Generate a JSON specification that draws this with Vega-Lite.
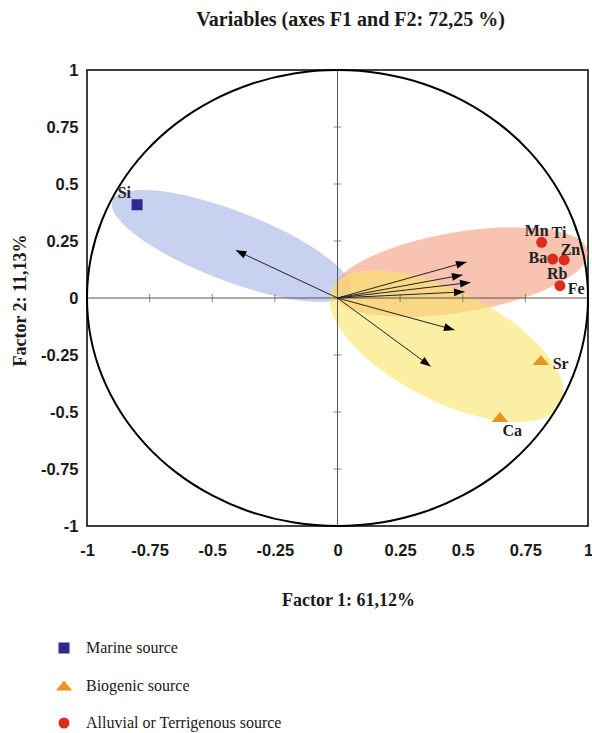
{
  "$schema": "https://vega.github.io/schema/vega-lite/v6.json",
  "width": 501,
  "height": 456,
  "autosize": {"type": "none"},
  "padding": {"left": 87, "top": 70, "right": 4, "bottom": 207},
  "background": "white",
  "title": {
    "text": "Variables (axes F1 and F2: 72,25 %)",
    "font": "Liberation Serif",
    "fontSize": 20,
    "fontWeight": "bold",
    "color": "#1a1a1a",
    "anchor": "middle",
    "dx": 13,
    "offset": 32
  },
  "config": {
    "view": {"stroke": "black", "strokeWidth": 1.5},
    "axis": {
      "grid": false,
      "ticks": false,
      "domain": false,
      "labelFont": "Liberation Sans",
      "labelFontWeight": "bold",
      "labelFontSize": 16.5,
      "labelColor": "#1a1a1a",
      "labelFlush": false,
      "labelOverlap": false,
      "titleFont": "Liberation Serif",
      "titleFontWeight": "bold",
      "titleFontSize": 18,
      "titleColor": "#1a1a1a"
    }
  },
  "datasets": {
    "blue": [
      {"i": 0, "x": 0.05, "y": 0.029}, {"i": 1, "x": -0.005, "y": -0.011},
      {"i": 2, "x": -0.124, "y": -0.014}, {"i": 3, "x": -0.288, "y": 0.019},
      {"i": 4, "x": -0.474, "y": 0.085}, {"i": 5, "x": -0.652, "y": 0.172},
      {"i": 6, "x": -0.795, "y": 0.268}, {"i": 7, "x": -0.882, "y": 0.357},
      {"i": 8, "x": -0.898, "y": 0.428}, {"i": 9, "x": -0.843, "y": 0.467},
      {"i": 10, "x": -0.724, "y": 0.471}, {"i": 11, "x": -0.56, "y": 0.437},
      {"i": 12, "x": -0.374, "y": 0.371}, {"i": 13, "x": -0.196, "y": 0.284},
      {"i": 14, "x": -0.053, "y": 0.188}, {"i": 15, "x": 0.034, "y": 0.099}
    ],
    "red": [
      {"i": 0, "x": 0.998, "y": 0.207}, {"i": 1, "x": 0.972, "y": 0.133},
      {"i": 2, "x": 0.87, "y": 0.057}, {"i": 3, "x": 0.711, "y": -0.011},
      {"i": 4, "x": 0.518, "y": -0.059}, {"i": 5, "x": 0.321, "y": -0.082},
      {"i": 6, "x": 0.15, "y": -0.074}, {"i": 7, "x": 0.032, "y": -0.038},
      {"i": 8, "x": -0.017, "y": 0.021}, {"i": 9, "x": 0.012, "y": 0.095},
      {"i": 10, "x": 0.114, "y": 0.171}, {"i": 11, "x": 0.273, "y": 0.239},
      {"i": 12, "x": 0.466, "y": 0.287}, {"i": 13, "x": 0.663, "y": 0.31},
      {"i": 14, "x": 0.834, "y": 0.302}, {"i": 15, "x": 0.952, "y": 0.266}
    ],
    "yellow": [
      {"i": 0, "x": 0.892, "y": -0.465}, {"i": 1, "x": 0.819, "y": -0.529},
      {"i": 2, "x": 0.688, "y": -0.543}, {"i": 3, "x": 0.518, "y": -0.507},
      {"i": 4, "x": 0.336, "y": -0.425}, {"i": 5, "x": 0.169, "y": -0.312},
      {"i": 6, "x": 0.043, "y": -0.182}, {"i": 7, "x": -0.024, "y": -0.057},
      {"i": 8, "x": -0.02, "y": 0.044}, {"i": 9, "x": 0.053, "y": 0.107},
      {"i": 10, "x": 0.184, "y": 0.121}, {"i": 11, "x": 0.354, "y": 0.086},
      {"i": 12, "x": 0.536, "y": 0.004}, {"i": 13, "x": 0.703, "y": -0.109},
      {"i": 14, "x": 0.829, "y": -0.239}, {"i": 15, "x": 0.896, "y": -0.364}
    ],
    "circle": [
      {"i": 0, "x": 1, "y": 0}, {"i": 1, "x": 0.985, "y": 0.174}, {"i": 2, "x": 0.94, "y": 0.342},
      {"i": 3, "x": 0.866, "y": 0.5}, {"i": 4, "x": 0.766, "y": 0.643}, {"i": 5, "x": 0.643, "y": 0.766},
      {"i": 6, "x": 0.5, "y": 0.866}, {"i": 7, "x": 0.342, "y": 0.94}, {"i": 8, "x": 0.174, "y": 0.985},
      {"i": 9, "x": 0, "y": 1}, {"i": 10, "x": -0.174, "y": 0.985}, {"i": 11, "x": -0.342, "y": 0.94},
      {"i": 12, "x": -0.5, "y": 0.866}, {"i": 13, "x": -0.643, "y": 0.766}, {"i": 14, "x": -0.766, "y": 0.643},
      {"i": 15, "x": -0.866, "y": 0.5}, {"i": 16, "x": -0.94, "y": 0.342}, {"i": 17, "x": -0.985, "y": 0.174},
      {"i": 18, "x": -1, "y": 0}, {"i": 19, "x": -0.985, "y": -0.174}, {"i": 20, "x": -0.94, "y": -0.342},
      {"i": 21, "x": -0.866, "y": -0.5}, {"i": 22, "x": -0.766, "y": -0.643}, {"i": 23, "x": -0.643, "y": -0.766},
      {"i": 24, "x": -0.5, "y": -0.866}, {"i": 25, "x": -0.342, "y": -0.94}, {"i": 26, "x": -0.174, "y": -0.985},
      {"i": 27, "x": 0, "y": -1}, {"i": 28, "x": 0.174, "y": -0.985}, {"i": 29, "x": 0.342, "y": -0.94},
      {"i": 30, "x": 0.5, "y": -0.866}, {"i": 31, "x": 0.643, "y": -0.766}, {"i": 32, "x": 0.766, "y": -0.643},
      {"i": 33, "x": 0.866, "y": -0.5}, {"i": 34, "x": 0.94, "y": -0.342}, {"i": 35, "x": 0.985, "y": -0.174}
    ],
    "cross": [
      {"x": 0, "y": -1, "x2": 0, "y2": 1},
      {"x": -1, "y": 0, "x2": 1, "y2": 0}
    ],
    "ticksF1": [
      {"x": -0.75, "y": 0}, {"x": -0.5, "y": 0}, {"x": -0.25, "y": 0},
      {"x": 0.25, "y": 0}, {"x": 0.5, "y": 0}, {"x": 0.75, "y": 0}
    ],
    "ticksF2": [
      {"x": 0, "y": -0.75}, {"x": 0, "y": -0.5}, {"x": 0, "y": -0.25},
      {"x": 0, "y": 0.25}, {"x": 0, "y": 0.5}, {"x": 0, "y": 0.75}
    ],
    "vectors": [
      {"x": -0.406, "y": 0.209},
      {"x": 0.515, "y": 0.158},
      {"x": 0.499, "y": 0.101},
      {"x": 0.531, "y": 0.068},
      {"x": 0.507, "y": 0.027},
      {"x": 0.467, "y": -0.14},
      {"x": 0.372, "y": -0.3}
    ],
    "points": [
      {"name": "Si", "x": -0.8, "y": 0.409, "source": "Marine source"},
      {"name": "Mn", "x": 0.815, "y": 0.244, "source": "Alluvial or Terrigenous source"},
      {"name": "Ba", "x": 0.859, "y": 0.171, "source": "Alluvial or Terrigenous source"},
      {"name": "Zn", "x": 0.905, "y": 0.167, "source": "Alluvial or Terrigenous source"},
      {"name": "Fe", "x": 0.888, "y": 0.054, "source": "Alluvial or Terrigenous source"},
      {"name": "Sr", "x": 0.812, "y": -0.272, "source": "Biogenic source"},
      {"name": "Ca", "x": 0.648, "y": -0.522, "source": "Biogenic source"}
    ],
    "labels": [
      {"name": "Si", "x": -0.851, "y": 0.46},
      {"name": "Mn", "x": 0.795, "y": 0.296},
      {"name": "Ti", "x": 0.884, "y": 0.284},
      {"name": "Ba", "x": 0.8, "y": 0.177},
      {"name": "Zn", "x": 0.93, "y": 0.211},
      {"name": "Rb", "x": 0.877, "y": 0.107},
      {"name": "Fe", "x": 0.953, "y": 0.039},
      {"name": "Sr", "x": 0.891, "y": -0.288},
      {"name": "Ca", "x": 0.698, "y": -0.583}
    ]
  },
  "encoding": {
    "x": {
      "field": "x",
      "type": "quantitative",
      "scale": {"domain": [-1, 1], "nice": false, "zero": false},
      "axis": {
        "values": [-1, -0.75, -0.5, -0.25, 0, 0.25, 0.5, 0.75, 1],
        "labelExpr": "datum.value + ''",
        "labelPadding": 16,
        "title": "Factor 1: 61,12%",
        "titleX": 261,
        "titleY": 74,
        "titleBaseline": "middle",
        "titleAlign": "center"
      }
    },
    "y": {
      "field": "y",
      "type": "quantitative",
      "scale": {"domain": [-1, 1], "nice": false, "zero": false},
      "axis": {
        "values": [-1, -0.75, -0.5, -0.25, 0, 0.25, 0.5, 0.75, 1],
        "labelExpr": "datum.value + ''",
        "labelPadding": 9,
        "title": "Factor 2: 11,13%",
        "titleX": -67,
        "titleY": 230,
        "titleAngle": -90,
        "titleBaseline": "middle",
        "titleAlign": "center"
      }
    }
  },
  "layer": [
    {
      "data": {"name": "blue"},
      "mark": {"type": "line", "interpolate": "cardinal-closed", "filled": true, "color": "#c8d1f0", "strokeWidth": 0},
      "encoding": {"order": {"field": "i", "type": "quantitative"}}
    },
    {
      "data": {"name": "red"},
      "mark": {"type": "line", "interpolate": "cardinal-closed", "filled": true, "color": "#f6ac94", "opacity": 0.72, "strokeWidth": 0},
      "encoding": {"order": {"field": "i", "type": "quantitative"}}
    },
    {
      "data": {"name": "yellow"},
      "mark": {"type": "line", "interpolate": "cardinal-closed", "filled": true, "color": "#f8e467", "opacity": 0.6, "strokeWidth": 0},
      "encoding": {"order": {"field": "i", "type": "quantitative"}}
    },
    {
      "data": {"name": "cross"},
      "mark": {"type": "rule", "color": "#555555", "strokeWidth": 1},
      "encoding": {"x2": {"field": "x2"}, "y2": {"field": "y2"}}
    },
    {
      "data": {"name": "ticksF1"},
      "mark": {"type": "tick", "orient": "vertical", "size": 8, "thickness": 1, "color": "#555555"},
      "encoding": {}
    },
    {
      "data": {"name": "ticksF2"},
      "mark": {"type": "tick", "orient": "horizontal", "size": 8, "thickness": 1, "color": "#555555"},
      "encoding": {}
    },
    {
      "data": {"name": "circle"},
      "mark": {"type": "line", "interpolate": "cardinal-closed", "color": "black", "strokeWidth": 2},
      "encoding": {"order": {"field": "i", "type": "quantitative"}}
    },
    {
      "data": {"name": "vectors"},
      "mark": {"type": "rule", "color": "#222222", "strokeWidth": 1},
      "encoding": {"x2": {"datum": 0}, "y2": {"datum": 0}}
    },
    {
      "data": {"name": "vectors"},
      "transform": [{"calculate": "atan2(-datum.y * 228, datum.x * 250.5) * 180 / PI", "as": "ang"}],
      "mark": {"type": "point", "shape": "M0,0L-2,-0.75L-2,0.75Z", "size": 110, "filled": true, "color": "black", "opacity": 1},
      "encoding": {"angle": {"field": "ang", "type": "quantitative", "scale": null}}
    },
    {
      "data": {"name": "points"},
      "mark": {"type": "point", "filled": true, "opacity": 1, "size": 121},
      "encoding": {
        "color": {
          "field": "source",
          "type": "nominal",
          "scale": {
            "domain": ["Marine source", "Biogenic source", "Alluvial or Terrigenous source"],
            "range": ["#302a8c", "#e8951f", "#dc2b1f"]
          },
          "legend": {
            "title": null,
            "orient": "none",
            "legendX": -31,
            "legendY": 570,
            "direction": "vertical",
            "labelFont": "Liberation Serif",
            "labelFontSize": 16,
            "labelColor": "#1a1a1a",
            "labelOffset": 14,
            "labelLimit": 0,
            "rowPadding": 21.5,
            "padding": 0,
            "symbolSize": 121,
            "symbolStrokeWidth": 0,
            "symbolOpacity": 1
          }
        },
        "shape": {
          "field": "source",
          "type": "nominal",
          "scale": {
            "domain": ["Marine source", "Biogenic source", "Alluvial or Terrigenous source"],
            "range": ["square", "M0,-0.9L1.5,0.9L-1.5,0.9Z", "circle"]
          }
        }
      }
    },
    {
      "data": {"name": "labels"},
      "mark": {"type": "text", "font": "Liberation Serif", "fontWeight": "bold", "fontSize": 16, "color": "#222222", "align": "center", "baseline": "middle"},
      "encoding": {"text": {"field": "name"}}
    }
  ]
}
